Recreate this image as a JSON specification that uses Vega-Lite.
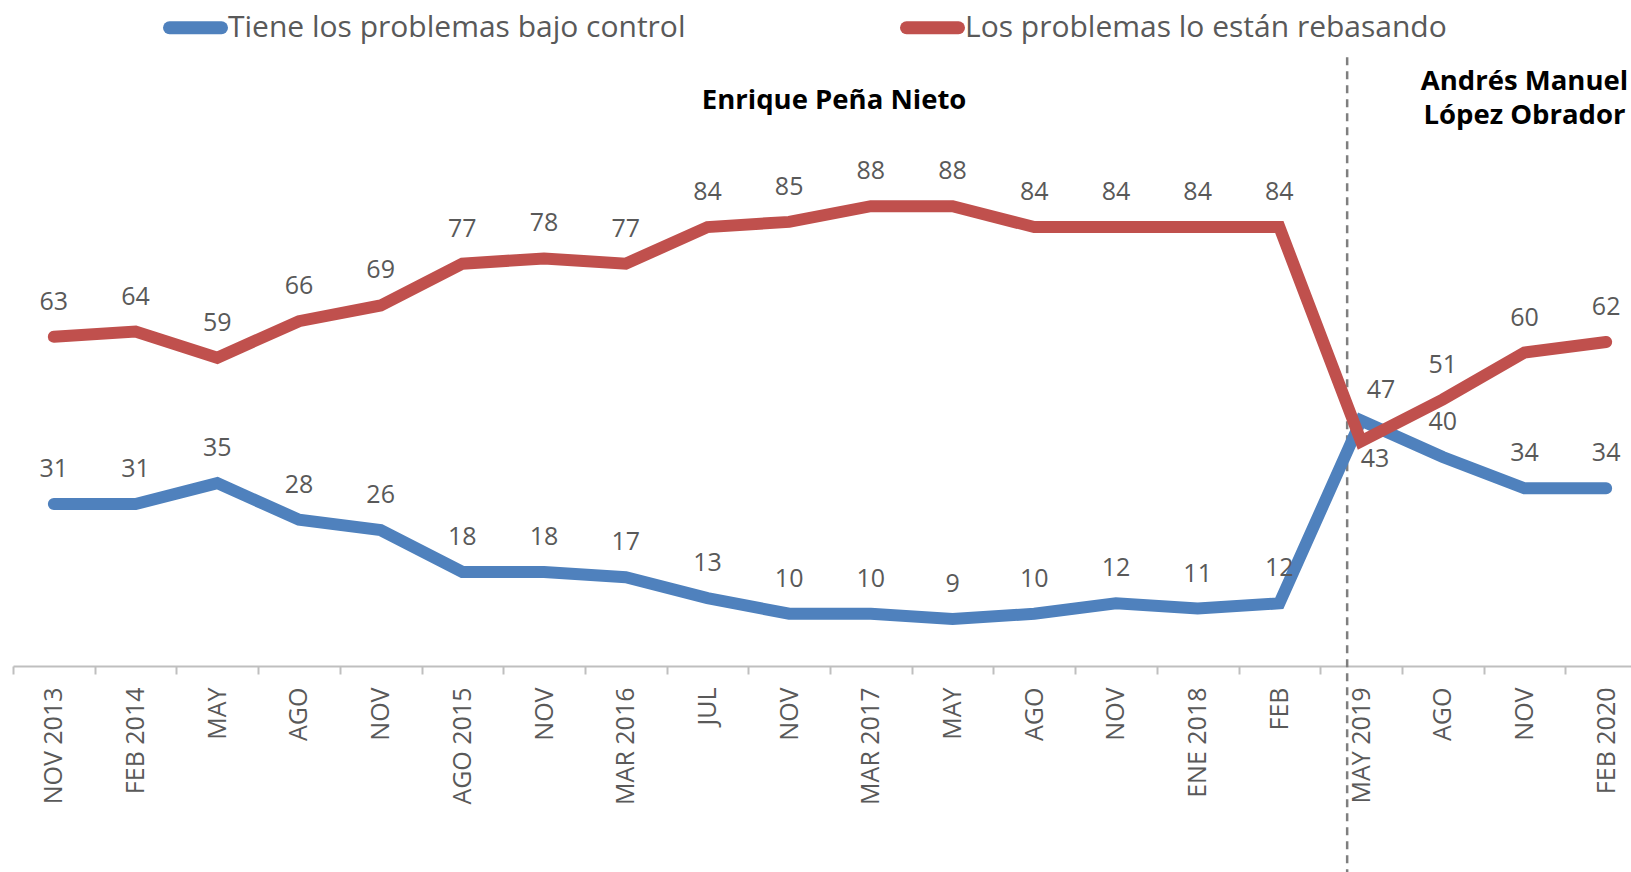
{
  "$schema": "https://vega.github.io/schema/vega-lite/v6.json",
  "width": 1618,
  "height": 627,
  "autosize": {"type": "none"},
  "padding": {"left": 13, "top": 39, "right": 0, "bottom": 206},
  "background": "white",
  "config": {"view": {"stroke": null}, "font": "Open Sans"},
  "datasets": {
    "series": [
      {"idx": 0, "serie": "Tiene los problemas bajo control", "valor": 31},
      {"idx": 1, "serie": "Tiene los problemas bajo control", "valor": 31},
      {"idx": 2, "serie": "Tiene los problemas bajo control", "valor": 35},
      {"idx": 3, "serie": "Tiene los problemas bajo control", "valor": 28},
      {"idx": 4, "serie": "Tiene los problemas bajo control", "valor": 26},
      {"idx": 5, "serie": "Tiene los problemas bajo control", "valor": 18},
      {"idx": 6, "serie": "Tiene los problemas bajo control", "valor": 18},
      {"idx": 7, "serie": "Tiene los problemas bajo control", "valor": 17},
      {"idx": 8, "serie": "Tiene los problemas bajo control", "valor": 13},
      {"idx": 9, "serie": "Tiene los problemas bajo control", "valor": 10},
      {"idx": 10, "serie": "Tiene los problemas bajo control", "valor": 10},
      {"idx": 11, "serie": "Tiene los problemas bajo control", "valor": 9},
      {"idx": 12, "serie": "Tiene los problemas bajo control", "valor": 10},
      {"idx": 13, "serie": "Tiene los problemas bajo control", "valor": 12},
      {"idx": 14, "serie": "Tiene los problemas bajo control", "valor": 11},
      {"idx": 15, "serie": "Tiene los problemas bajo control", "valor": 12},
      {"idx": 16, "serie": "Tiene los problemas bajo control", "valor": 47},
      {"idx": 17, "serie": "Tiene los problemas bajo control", "valor": 40},
      {"idx": 18, "serie": "Tiene los problemas bajo control", "valor": 34},
      {"idx": 19, "serie": "Tiene los problemas bajo control", "valor": 34},
      {"idx": 0, "serie": "Los problemas lo están rebasando", "valor": 63},
      {"idx": 1, "serie": "Los problemas lo están rebasando", "valor": 64},
      {"idx": 2, "serie": "Los problemas lo están rebasando", "valor": 59},
      {"idx": 3, "serie": "Los problemas lo están rebasando", "valor": 66},
      {"idx": 4, "serie": "Los problemas lo están rebasando", "valor": 69},
      {"idx": 5, "serie": "Los problemas lo están rebasando", "valor": 77},
      {"idx": 6, "serie": "Los problemas lo están rebasando", "valor": 78},
      {"idx": 7, "serie": "Los problemas lo están rebasando", "valor": 77},
      {"idx": 8, "serie": "Los problemas lo están rebasando", "valor": 84},
      {"idx": 9, "serie": "Los problemas lo están rebasando", "valor": 85},
      {"idx": 10, "serie": "Los problemas lo están rebasando", "valor": 88},
      {"idx": 11, "serie": "Los problemas lo están rebasando", "valor": 88},
      {"idx": 12, "serie": "Los problemas lo están rebasando", "valor": 84},
      {"idx": 13, "serie": "Los problemas lo están rebasando", "valor": 84},
      {"idx": 14, "serie": "Los problemas lo están rebasando", "valor": 84},
      {"idx": 15, "serie": "Los problemas lo están rebasando", "valor": 84},
      {"idx": 16, "serie": "Los problemas lo están rebasando", "valor": 43},
      {"idx": 17, "serie": "Los problemas lo están rebasando", "valor": 51},
      {"idx": 18, "serie": "Los problemas lo están rebasando", "valor": 60},
      {"idx": 19, "serie": "Los problemas lo están rebasando", "valor": 62}
    ]
  },
  "data": {"name": "series"},
  "encoding": {
    "x": {
      "field": "idx",
      "type": "ordinal",
      "scale": {"range": [0, 1634], "paddingInner": 0, "paddingOuter": 0},
      "axis": {
        "title": null,
        "labelExpr": "['NOV 2013','FEB 2014','MAY','AGO','NOV','AGO 2015','NOV','MAR 2016','JUL','NOV','MAR 2017','MAY','AGO','NOV','ENE 2018','FEB','MAY 2019','AGO','NOV','FEB 2020'][datum.value]",
        "labelAngle": -90,
        "labelAlign": "right",
        "labelBaseline": "middle",
        "labelFontSize": 25,
        "labelColor": "#595959",
        "labelPadding": 13,
        "labelOverlap": false,
        "labelFlush": false,
        "labelBound": false,
        "tickBand": "extent",
        "tickSize": 8,
        "tickColor": "#bfbfbf",
        "tickWidth": 2,
        "domainColor": "#bfbfbf",
        "domainWidth": 2,
        "grid": false
      }
    },
    "y": {
      "field": "valor",
      "type": "quantitative",
      "scale": {"domain": [0, 120], "nice": false, "zero": true},
      "axis": null
    }
  },
  "layer": [
    {
      "transform": [{"filter": "datum.idx === 16 && datum.serie === 'Tiene los problemas bajo control'"}],
      "mark": {"type": "rule", "strokeDash": [8, 6], "strokeWidth": 2.5, "color": "#7f7f7f"},
      "encoding": {
        "x": {"field": "idx", "type": "ordinal", "bandPosition": 0.33},
        "y": {"datum": 116.5, "type": "quantitative"},
        "y2": {"datum": -40}
      }
    },
    {
      "transform": [{"filter": "datum.serie === 'Tiene los problemas bajo control'"}],
      "mark": {"type": "line", "strokeWidth": 12, "strokeCap": "round", "strokeJoin": "miter"},
      "encoding": {
        "color": {
          "field": "serie",
          "type": "nominal",
          "scale": {
            "domain": ["Tiene los problemas bajo control", "Los problemas lo están rebasando"],
            "range": ["#4F81BD", "#C0504D"]
          },
          "legend": {
            "title": null,
            "orient": "none",
            "direction": "horizontal",
            "columns": 2,
            "legendX": 150,
            "legendY": -44,
            "symbolType": "stroke",
            "symbolSize": 2704,
            "symbolStrokeWidth": 13,
            "labelFontSize": 30,
            "labelColor": "#595959",
            "labelOffset": 0,
            "columnPadding": 194,
            "labelLimit": 700,
            "encode": {"symbols": {"update": {"strokeCap": {"value": "round"}}}}
          }
        }
      }
    },
    {
      "transform": [{"filter": "datum.serie === 'Los problemas lo están rebasando'"}],
      "mark": {"type": "line", "strokeWidth": 12, "strokeCap": "round", "strokeJoin": "miter"},
      "encoding": {
        "color": {"field": "serie", "type": "nominal"}
      }
    },
    {
      "transform": [{"filter": "datum.idx !== 16"}],
      "mark": {"type": "text", "dy": -35, "fontSize": 25, "color": "#595959", "baseline": "middle"},
      "encoding": {"text": {"field": "valor", "type": "quantitative"}}
    },
    {
      "transform": [{"filter": "datum.idx === 16 && datum.serie === 'Tiene los problemas bajo control'"}],
      "mark": {"type": "text", "dy": -30, "dx": 20, "fontSize": 25, "color": "#595959", "baseline": "middle"},
      "encoding": {"text": {"field": "valor", "type": "quantitative"}}
    },
    {
      "transform": [{"filter": "datum.idx === 16 && datum.serie === 'Los problemas lo están rebasando'"}],
      "mark": {"type": "text", "dy": 18, "dx": 14, "fontSize": 25, "color": "#595959", "baseline": "middle"},
      "encoding": {"text": {"field": "valor", "type": "quantitative"}}
    },
    {
      "transform": [{"filter": "datum.idx === 10 && datum.serie === 'Tiene los problemas bajo control'"}],
      "mark": {"type": "text", "fontWeight": "bold", "fontSize": 27.5, "color": "#000000", "align": "center", "baseline": "middle"},
      "encoding": {
        "x": {"field": "idx", "type": "ordinal", "bandPosition": 0.05},
        "y": {"datum": 108.1, "type": "quantitative"},
        "text": {"value": "Enrique Peña Nieto"}
      }
    },
    {
      "transform": [{"filter": "datum.idx === 18 && datum.serie === 'Tiene los problemas bajo control'"}],
      "mark": {"type": "text", "fontWeight": "bold", "fontSize": 27.5, "color": "#000000", "align": "center", "baseline": "middle", "lineHeight": 34.5},
      "encoding": {
        "x": {"field": "idx", "type": "ordinal", "bandPosition": 0.5},
        "y": {"datum": 111.8, "type": "quantitative"},
        "text": {"value": ["Andrés Manuel", "López Obrador"]}
      }
    }
  ]
}
